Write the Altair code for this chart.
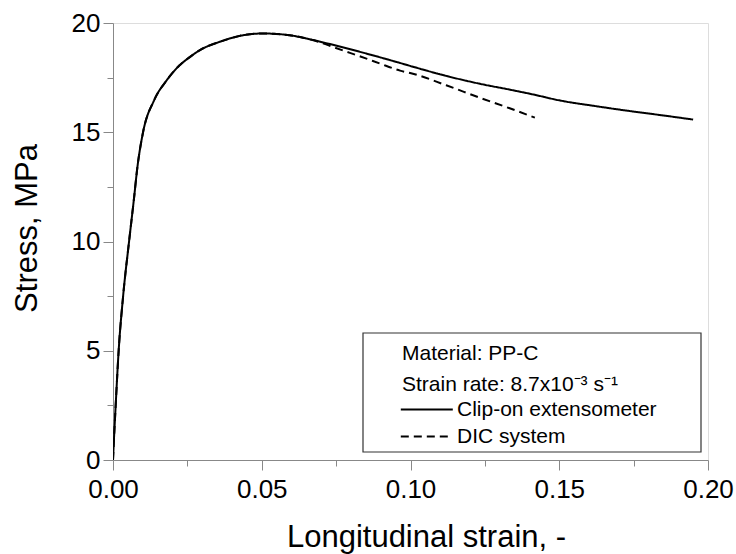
import altair as alt
import pandas as pd

# ---- data ----
clip_strain = [0.0000, 0.0002, 0.0009, 0.0019, 0.0034, 0.0054, 0.0070, 0.0082, 0.0101,
               0.0138, 0.0179, 0.0219, 0.0258, 0.0291, 0.0359, 0.0426, 0.0504, 0.0594,
               0.0650, 0.0728, 0.0852, 0.0965, 0.1008, 0.1120, 0.1233, 0.1345, 0.1412,
               0.1500, 0.1625, 0.1737, 0.1849, 0.1950]
clip_stress = [0.0, 0.6, 2.5, 5.0, 7.5, 10.0, 11.9, 13.4, 15.0,
               16.46, 17.35, 18.0, 18.44, 18.75, 19.14, 19.41, 19.52, 19.44,
               19.29, 19.04, 18.60, 18.17, 18.0, 17.58, 17.22, 16.92, 16.73,
               16.46, 16.19, 15.97, 15.77, 15.58]

dic_strain = [0.0000, 0.0002, 0.0009, 0.0019, 0.0034, 0.0054, 0.0070, 0.0082, 0.0101,
              0.0138, 0.0179, 0.0219, 0.0258, 0.0291, 0.0359, 0.0426, 0.0504, 0.0594,
              0.0650, 0.0700, 0.0740, 0.0852, 0.0896, 0.0965, 0.1008, 0.1120, 0.1233,
              0.1345, 0.1418]
dic_stress = [0.0, 0.6, 2.5, 5.0, 7.5, 10.0, 11.9, 13.4, 15.0,
              16.46, 17.35, 18.0, 18.44, 18.75, 19.14, 19.41, 19.52, 19.44,
              19.29, 19.10, 18.90, 18.37, 18.15, 17.82, 17.68, 17.15, 16.58,
              16.04, 15.67]

series_names = ["Clip-on extensometer", "DIC system"]
x_ticks = [0.0, 0.025, 0.05, 0.075, 0.10, 0.125, 0.15, 0.175, 0.20]
y_ticks = [0, 2.5, 5, 7.5, 10, 12.5, 15, 17.5, 20]
legend_title = ["Material: PP-C", "Strain rate: 8.7x10\u207b\u00b3 s\u207b\u00b9"]
x_title = "Longitudinal strain, -"
y_title = "Stress, MPa"

FONT = "Liberation Sans"

rows = []
for i, (s, v) in enumerate(zip(clip_strain, clip_stress)):
    rows.append({"strain": s, "stress": v, "series": series_names[0], "idx": i})
for i, (s, v) in enumerate(zip(dic_strain, dic_stress)):
    rows.append({"strain": s, "stress": v, "series": series_names[1], "idx": i})
df = pd.DataFrame(rows)

x_axis = alt.Axis(
    values=x_ticks,
    labelExpr="round(datum.value*1000) % 50 === 0 ? format(datum.value, '.2f') : ''",
    tickSize={"condition": {"test": "round(datum.value*1000) % 50 !== 0", "value": 6}, "value": 10},
    labelPadding=6,
    labelFont=FONT, labelFontSize=26, labelColor="black",
    labelOverlap=False, labelFlush=False,
    title=x_title, titleFont=FONT, titleFontSize=31, titleFontWeight="normal", titleColor="black",
    titleX=313, titleY=86, titleBaseline="alphabetic",
    grid=False,
)
y_axis = alt.Axis(
    values=y_ticks,
    labelExpr="datum.value % 5 === 0 ? datum.label : ''",
    tickSize={"condition": {"test": "datum.value % 5 !== 0", "value": 6}, "value": 10},
    labelPadding=3,
    labelFont=FONT, labelFontSize=26, labelColor="black",
    labelOverlap=False, labelFlush=False,
    title=y_title, titleFont=FONT, titleFontSize=31, titleFontWeight="normal", titleColor="black",
    titleX=-70, titleY=205, titleBaseline="bottom",
    grid=False,
)

lines = alt.Chart(df).mark_line(strokeWidth=2, color="black", clip=True, interpolate="monotone").encode(
    x=alt.X("strain:Q", scale=alt.Scale(domain=[0, 0.2], nice=False, zero=False), axis=x_axis),
    y=alt.Y("stress:Q", scale=alt.Scale(domain=[0, 20], nice=False), axis=y_axis),
    strokeDash=alt.StrokeDash(
        "series:N",
        scale=alt.Scale(domain=series_names, range=[[1, 0], [8, 5]]),
        legend=alt.Legend(
            orient="none", legendX=289, legendY=320,
            title=legend_title, titleFont=FONT, titleFontSize=21, titleFontWeight="normal",
            titleColor="black", titleLineHeight=31, titlePadding=4, titleLimit=400,
            labelFont=FONT, labelFontSize=21, labelColor="black", labelOffset=34, labelLimit=400,
            symbolType="M-1.8,0H6.2", symbolSize=169, symbolStrokeWidth=1.8,
            symbolStrokeColor="black", symbolFillColor="transparent",
            rowPadding=5, padding=0,
        ),
    ),
    order="idx:Q",
)

box = alt.Chart(pd.DataFrame({"a": [0]})).mark_rect(
    fill="white", stroke="#333333", strokeWidth=1.2
).encode(
    x=alt.value(250), x2=alt.value(588), y=alt.value(310), y2=alt.value(429)
)

chart = alt.layer(box, lines).properties(
    width=595, height=437,
    autosize="none",
    padding={"left": 113, "top": 23, "right": 28, "bottom": 94},
).configure_view(
    stroke="black", strokeWidth=1.5
).configure_axis(
    domainColor="black", domainWidth=1.5, tickColor="black", tickWidth=1.5
).configure(background="white")

chart.save("out.html", embed_options={"renderer": "svg", "actions": False})
